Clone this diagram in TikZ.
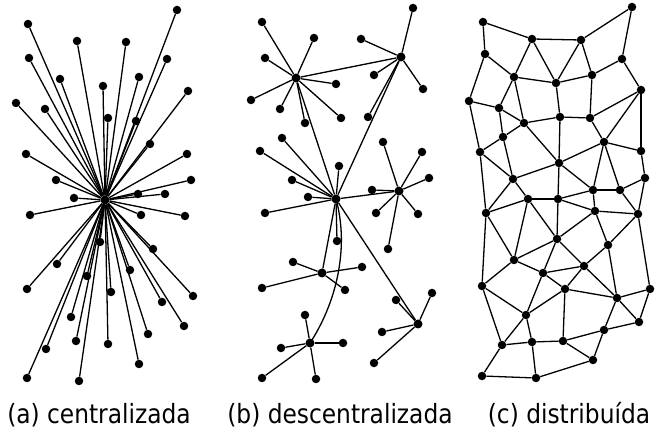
\documentclass[tikz,border=0pt]{standalone}
\usepackage{fontspec}
\newfontfamily\labelfont[FakeStretch=0.88]{DejaVu Sans}
\begin{document}
\begin{tikzpicture}[x=1pt,y=-1pt,
  dot/.style={circle,fill=black,inner sep=0pt,minimum size=8.5pt},
  hubdot/.style={circle,fill=black,inner sep=0pt,minimum size=9pt},
  edge/.style={line width=1.3pt},
  lbl/.style={anchor=base,inner sep=0pt,font=\labelfont\fontsize{26.5}{30}\selectfont}]
\useasboundingbox (0,0) rectangle (657,435);
% ---------------- (a) centralizada ----------------
\node[hubdot] (ahub) at (105,200) {};
\foreach [count=\i] \p in {(177,10),(28,24),(77,41),(126,42),(29,58),(167,59),(60,79),(139,77),(103,86),(188,91),(16,103),(45,109),(108,118),(136,121),(150,144),(26,154),(187,154),(56,180),(191,180),(74,198),(138,194),(165,194),(30,215),(141,215),(185,216),(100,242),(153,249),(57,264),(130,270),(87,276),(27,289),(111,292),(193,296),(162,302),(71,317),(184,326),(148,334),(76,341),(46,349),(108,344),(139,364),(27,378),(79,381)}
{ \node[dot] (a\i) at \p {}; \draw[edge] (ahub) -- (a\i); }
% ---------------- (b) descentralizada ----------------
\node[hubdot] (bA) at (296,78) {};
\node[hubdot] (bB) at (401,57) {};
\node[hubdot] (bC) at (336,199) {};
\node[hubdot] (bD) at (399,191) {};
\node[hubdot] (bE) at (322,273) {};
\node[hubdot] (bF) at (310,343) {};
\node[hubdot] (bG) at (418,324) {};
\draw[edge] (bA) -- (bB);
\draw[edge] (bA) -- (bC);
\draw[edge] (bB) -- (bC);
\draw[edge] (bC) -- (bD);
\draw[edge] (bC) -- (bE);
\draw[edge] (bC) -- (bG);
\draw[edge] (bC.center) .. controls (350,250) and (335,305) .. (bF.center);
\foreach [count=\i] \p in {(262,22),(314,38),(265,58),(336,84),(251,100),(280,109),(305,123),(341,118)}
{ \node[dot] (bA\i) at \p {}; \draw[edge] (bA) -- (bA\i); }
\foreach [count=\i] \p in {(413,8),(361,39),(374,75),(423,89),(368,117)}
{ \node[dot] (bB\i) at \p {}; \draw[edge] (bB) -- (bB\i); }
\foreach [count=\i] \p in {(282,138),(260,151),(339,166),(292,180),(308,197),(265,213),(337,241)}
{ \node[dot] (bC\i) at \p {}; \draw[edge] (bC) -- (bC\i); }
\foreach [count=\i] \p in {(383,142),(422,152),(429,178),(372,190),(376,213),(418,214),(388,249)}
{ \node[dot] (bD\i) at \p {}; \draw[edge] (bD) -- (bD\i); }
\foreach [count=\i] \p in {(293,262),(362,267),(262,288),(345,290)}
{ \node[dot] (bE\i) at \p {}; \draw[edge] (bE) -- (bE\i); }
\foreach [count=\i] \p in {(305,315),(281,348),(343,343),(262,378),(316,379)}
{ \node[dot] (bF\i) at \p {}; \draw[edge] (bF) -- (bF\i); }
\foreach [count=\i] \p in {(432,293),(396,300),(382,332),(374,363)}
{ \node[dot] (bG\i) at \p {}; \draw[edge] (bG) -- (bG\i); }
% ---------------- (c) distribuida ----------------
\foreach \n/\p in {n1/{(483,22)},n2/{(532,39)},n3/{(581,40)},n4/{(632,7)},n5/{(485,54)},n6/{(622,59)},n7/{(514,77)},n8/{(556,83)},n9/{(592,75)},n10/{(641,90)},n11/{(469,101)},n12/{(499,108)},n13/{(524,123)},n14/{(560,117)},n15/{(590,118)},
m2/{(503,137)},m3/{(480,152)},m4/{(604,142)},m5/{(641,151)},m6/{(559,163)},m7/{(513,179)},m8/{(645,178)},m9/{(593,190)},m10/{(620,190)},m11/{(528,199)},m12/{(558,199)},m13/{(486,213)},m14/{(595,211)},m15/{(638,214)},m16/{(557,239)},m17/{(608,245)},
k2/{(514,260)},k3/{(543,273)},k4/{(584,266)},k5/{(482,286)},k6/{(565,289)},k7/{(617,298)},k8/{(650,289)},k9/{(526,315)},k10/{(639,322)},k11/{(604,330)},k12/{(502,345)},k13/{(532,342)},k14/{(563,341)},k15/{(593,360)},k16/{(482,376)},k17/{(536,378)}}
{ \node[dot] (c\n) at \p {}; }
\foreach \u/\v in {n1/n2,n1/n5,n2/n3,n2/n7,n2/n8,n3/n4,n3/n8,n3/n9,n4/n6,n5/n7,n5/n11,n6/n9,n6/n10,n7/n8,n7/n12,n7/n13,n8/n9,n8/n14,n9/n15,n10/n15,n10/m4,n10/m5,n11/n12,n11/m3,n12/n13,n12/m2,n13/n14,n13/m2,n13/m6,n14/n15,n14/m6,n15/m4,
m2/m3,m2/m7,m3/m7,m3/m13,m4/m5,m4/m6,m4/m9,m4/m10,m5/m8,m6/m7,m6/m9,m6/m12,m7/m11,m7/m13,m8/m10,m8/m15,m9/m10,m9/m12,m9/m14,m10/m15,m11/m12,m11/m13,m11/m16,m11/k2,m12/m14,m12/m16,m13/k2,m13/k5,m14/m15,m14/m16,m14/m17,m15/m17,m15/k8,m16/k2,m16/k3,m16/k4,m17/k4,m17/k7,
k2/k3,k2/k5,k3/k4,k3/k6,k3/k9,k4/k6,k4/k7,k5/k9,k5/k12,k6/k7,k6/k9,k6/k14,k7/k8,k7/k10,k7/k11,k8/k10,k9/k12,k9/k13,k10/k11,k11/k14,k11/k15,k12/k13,k12/k16,k13/k14,k13/k17,k14/k15,k15/k17,k16/k17}
{ \draw[edge] (c\u) -- (c\v); }
% ---------------- labels ----------------
\node[lbl] (la) at (99,424) {(a) centralizada};
\node[lbl] (lb) at (340,424) {(b) descentralizada};
\node[lbl] (lc) at (569,424) {(c) distribuída};
\end{tikzpicture}
\end{document}
